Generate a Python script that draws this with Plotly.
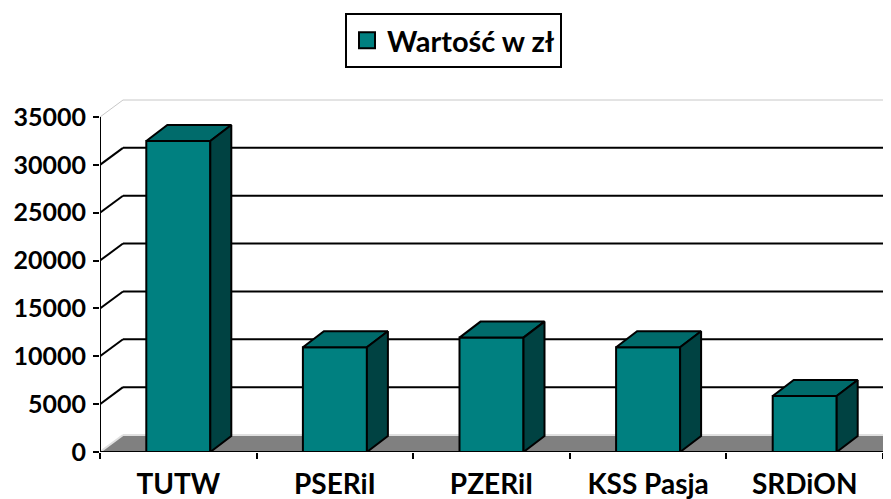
import plotly.graph_objects as go

# ---- data ----
categories = ["TUTW", "PSERiI", "PZERiI", "KSS Pasja", "SRDiON"]
values = [32500, 10950, 11950, 10950, 5850]
series_name = "Wartość w zł"
y_ticks = [0, 5000, 10000, 15000, 20000, 25000, 30000, 35000]
y_tick_labels = ["0", "5000", "10000", "15000", "20000", "25000", "30000", "35000"]

# ---- style / geometry ----
PAGE_OFF = 8                     # default page margin of the html body
W, H = 891 - PAGE_OFF, 499 - PAGE_OFF
PLOT_L, PLOT_T, PLOT_B = 100, 90, 452   # target screen pixels
ML = PLOT_L - PAGE_OFF
MT = PLOT_T - PAGE_OFF
MB = H - (PLOT_B - PAGE_OFF)
MR = 0
plot_w = W - ML - MR
plot_h = H - MT - MB
PX_PER_CAT = 156.6
PX_PER_VAL = 335 / 35000.0
WALL_DX, WALL_DY = 23 / PX_PER_CAT, 17 / PX_PER_VAL
BAR_DX, BAR_DY = 21 / PX_PER_CAT, 16 / PX_PER_VAL
BAR_W = 64 / PX_PER_CAT

FRONT = "#008080"
TOP = "#006B6B"
SIDE = "#004242"
FONT = "Lato, 'Open Sans', sans-serif"

n = len(categories)
x_lo = -0.5
x_hi = n - 0.5
x_range = [x_lo, x_lo + plot_w / PX_PER_CAT]
y_range = [0, plot_h / PX_PER_VAL]

fig = go.Figure()

shapes = []
# floor
shapes.append(dict(type="path", layer="below",
                   path=f"M {x_lo},0 L {x_lo+WALL_DX},{WALL_DY} L {x_hi+WALL_DX},{WALL_DY} L {x_hi},0 Z",
                   fillcolor="#808080", line=dict(width=0), xref="x", yref="y"))
shapes.append(dict(type="line", layer="below", xref="x", yref="y",
                   x0=x_hi, y0=0, x1=x_hi + WALL_DX, y1=WALL_DY,
                   line=dict(color="#E0E0E0", width=2)))
# gridlines on side + back walls
for v in y_ticks:
    if v == 0:
        col, wd = "#E0E0E0", 2
    elif v == y_ticks[-1]:
        col, wd = "#C8C8C8", 1
    else:
        col, wd = "black", 2
    shapes.append(dict(type="line", layer="below", xref="x", yref="y",
                       x0=x_lo, y0=v, x1=x_lo + WALL_DX, y1=v + WALL_DY,
                       line=dict(color=col, width=wd)))
    shapes.append(dict(type="line", layer="below", xref="x", yref="y",
                       x0=x_lo + WALL_DX, y0=v + WALL_DY, x1=x_hi + WALL_DX, y1=v + WALL_DY,
                       line=dict(color=col, width=wd)))
# axis lines
shapes.append(dict(type="line", layer="above", xref="x", yref="y",
                   x0=x_lo, y0=0, x1=x_lo, y1=y_ticks[-1], line=dict(color="black", width=2)))
shapes.append(dict(type="line", layer="above", xref="x", yref="y",
                   x0=x_lo, y0=0, x1=x_hi, y1=0, line=dict(color="black", width=2)))

xs = list(range(n))

# front faces
fig.add_trace(go.Bar(x=xs, y=values, width=BAR_W, marker=dict(color=FRONT, line=dict(color="black", width=2)),
                     showlegend=False, hoverinfo="skip"))

# top and side faces
for c, v in zip(xs, values):
    l, r = c - BAR_W / 2, c + BAR_W / 2
    fig.add_trace(go.Scatter(
        x=[l, l + BAR_DX, r + BAR_DX, r, l],
        y=[v, v + BAR_DY, v + BAR_DY, v, v],
        fill="toself", fillcolor=TOP, mode="lines",
        line=dict(color="black", width=2), showlegend=False, hoverinfo="skip"))
    fig.add_trace(go.Scatter(
        x=[r, r, r + BAR_DX, r + BAR_DX, r],
        y=[0, v, v + BAR_DY, BAR_DY, 0],
        fill="toself", fillcolor=SIDE, mode="lines",
        line=dict(color="black", width=2), showlegend=False, hoverinfo="skip"))

# legend entry
fig.add_trace(go.Scatter(x=[None], y=[None], mode="markers", name=series_name,
                         marker=dict(symbol="square", size=16, color=FRONT,
                                     line=dict(color="black", width=2))))

LEG_L, LEG_T = 345, 13   # target screen pixels
fig.update_layout(
    width=W, height=H,
    margin=dict(l=ML, r=MR, t=MT, b=MB, pad=0, autoexpand=False),
    plot_bgcolor="white", paper_bgcolor="white",
    shapes=shapes,
    showlegend=True,
    legend=dict(x=(LEG_L - PLOT_L) / plot_w, xanchor="left",
                y=(PLOT_B - LEG_T) / plot_h, yanchor="top",
                bordercolor="black", borderwidth=2, bgcolor="white",
                font=dict(family=FONT, size=29, color="black", weight="bold"),
                itemsizing="trace"),
    xaxis=dict(range=x_range, tickmode="array", tickvals=xs, ticktext=categories,
               showgrid=False, zeroline=False, showline=False, ticks="",
               tickfont=dict(family=FONT, size=28, color="black", weight="bold"),
               ticklabelstandoff=13,
               minor=dict(tickmode="array", tickvals=[i - 0.5 for i in range(n + 1)],
                          ticks="outside", ticklen=6, tickwidth=2, tickcolor="black")),
    yaxis=dict(range=y_range, tickmode="array", tickvals=y_ticks, ticktext=y_tick_labels,
               showgrid=False, zeroline=False, showline=False,
               ticks="outside", ticklen=6, tickwidth=2, tickcolor="black",
               ticklabelstandoff=2,
               tickfont=dict(family=FONT, size=25, color="black", weight="bold")),
)

fig.write_html("out.html")
